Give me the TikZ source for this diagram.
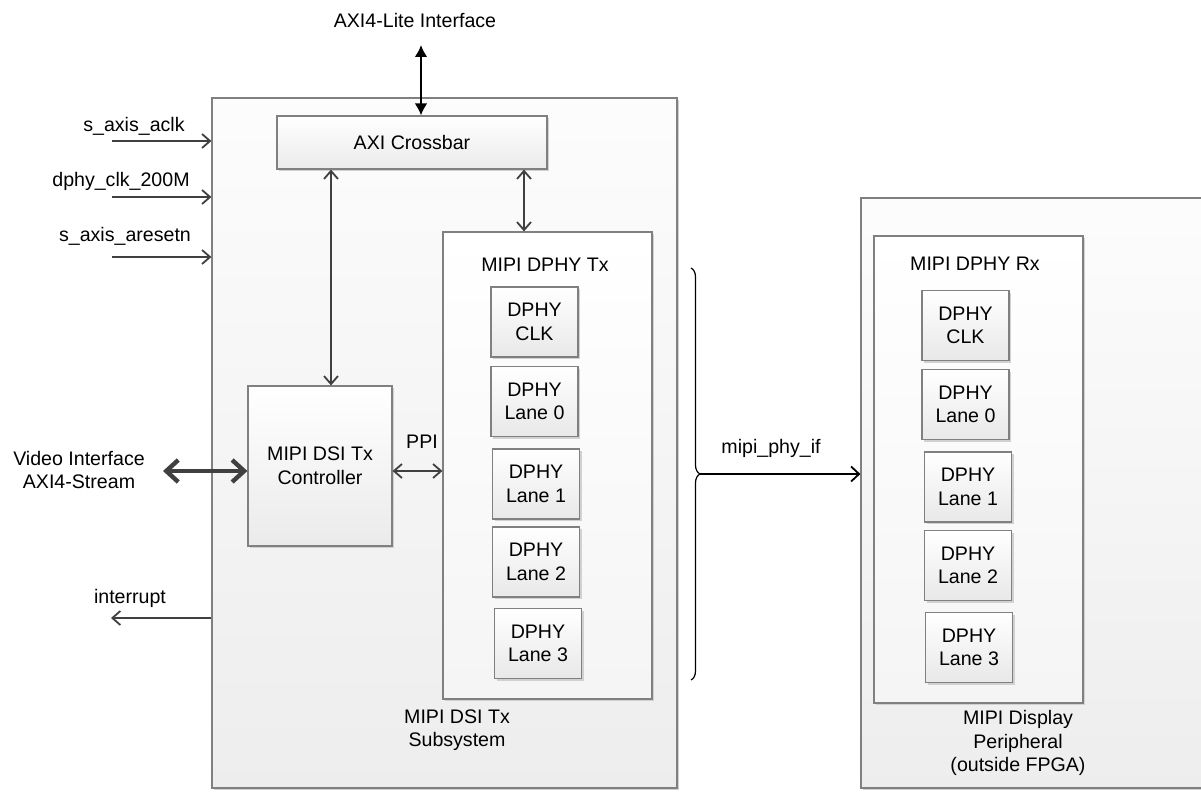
\documentclass[tikz,border=0pt]{standalone}
\usepackage{fontspec}
\setmainfont{Liberation Sans}
\usetikzlibrary{arrows.meta,shadows,decorations.pathreplacing}
\definecolor{edge}{HTML}{808080}
\definecolor{wire}{HTML}{404040}
\begin{document}
\begin{tikzpicture}[x=0.5pt,y=-0.5pt,font=\fontsize{9.8}{11.75}\selectfont,
    blk/.style={draw=edge,line width=0.6pt,inner sep=0pt,top color=white,bottom color=black!8,
        drop shadow={shadow xshift=1.2pt,shadow yshift=-1.2pt,fill=black!18,opacity=1}},
    lane/.style={blk,align=center,minimum width=43.5pt,minimum height=35pt,bottom color=black!9},
    sig/.style={draw=wire,line width=0.9pt,-{Straight Barb[length=4pt,width=7pt]}},
    bus/.style={draw=wire,line width=0.9pt,{Straight Barb[length=4pt,width=7pt]}-{Straight Barb[length=4pt,width=7pt]}},
    video/.style={draw=wire,line width=2.2pt,{Straight Barb[length=6pt,width=11pt]}-{Straight Barb[length=6pt,width=11pt]}},
    lite/.style={draw=black,line width=1.2pt,{Latex[length=6pt,width=6.5pt]}-{Latex[length=6pt,width=6.5pt]}},
    phy/.style={draw=black,line width=0.9pt,-{Straight Barb[length=4pt,width=7.5pt]}},
    curly/.style={draw=black,line width=0.6pt,decorate,decoration={brace,amplitude=4.5pt}}]
        \useasboundingbox (0,0) rectangle (1201,797);
        \clip (0,0) rectangle (1201,797);
        \fill[white] (0,0) rectangle (1201,797);
        % subsystem and peripheral
        \node[blk,minimum width=232.5pt,minimum height=345pt,top color=black!1,bottom color=black!7] (TX) at (444.5,443) {};
        \node[blk,minimum width=190pt,minimum height=295pt,top color=black!1,bottom color=black!7] (RX) at (1051,493) {};
        \node[blk,minimum width=135pt,minimum height=26.5pt] (XB) at (412,142.5) {AXI Crossbar};
        \node[blk,align=center,minimum width=72pt,minimum height=80pt] (CTRL) at (320,466) {MIPI DSI Tx\\Controller};
        \node[blk,minimum width=104.5pt,minimum height=233.5pt,bottom color=black!4] (PHYTX) at (547.5,465.5) {};
        \node[blk,minimum width=104.5pt,minimum height=233.5pt,bottom color=black!4] (PHYRX) at (978.5,469.5) {};
        \begin{scope}[every node/.style={lane}]
            \node (TXCLK) at (534.5,322) {DPHY\\CLK};
            \node (TXL0) at (534.5,401.5) {DPHY\\Lane 0};
            \node (TXL1) at (536,484) {DPHY\\Lane 1};
            \node (TXL2) at (536,562) {DPHY\\Lane 2};
            \node (TXL3) at (538,643.5) {DPHY\\Lane 3};
            \node (RXCLK) at (965.5,325.5) {DPHY\\CLK};
            \node (RXL0) at (965.5,404.5) {DPHY\\Lane 0};
            \node (RXL1) at (968,487) {DPHY\\Lane 1};
            \node (RXL2) at (968,565.5) {DPHY\\Lane 2};
            \node (RXL3) at (969,647.5) {DPHY\\Lane 3};
        \end{scope}
        % labels
        \node (TXT) at (545,265) {MIPI DPHY Tx};
        \node (RXT) at (975,264) {MIPI DPHY Rx};
        \node[align=center] (TXN) at (457,730) {MIPI DSI Tx\\Subsystem};
        \node[align=center] (RXN) at (1018,743) {MIPI Display\\Peripheral\\(outside FPGA)};
        \node (LITEL) at (415,20) {AXI4-Lite Interface};
        \node (ACLKL) at (134,126) {s\_axis\_aclk};
        \node (DCLKL) at (121,181) {dphy\_clk\_200M};
        \node (RSTL) at (125,236) {s\_axis\_aresetn};
        \node (IRQL) at (130,598) {interrupt};
        \node[align=center] (VIDL) at (79,470) {Video Interface\\AXI4-Stream};
        \node (PPIL) at (422,442) {PPI};
        \node (PHYL) at (771,448) {mipi\_phy\_if};
        % free ends
        \coordinate (ACLK) at (112,141);
        \coordinate (DCLK) at (112,197);
        \coordinate (RST) at (112,257);
        \coordinate (IRQ) at (111,618);
        \coordinate (VID) at (163,471);
        \coordinate (LITE) at (421,45);
        \coordinate (TIP) at (700,474);
        \draw[sig] (ACLK) -- (ACLK -| TX.west);
        \draw[sig] (DCLK) -- (DCLK -| TX.west);
        \draw[sig] (RST) -- (RST -| TX.west);
        \draw[sig] (IRQ -| TX.west) -- (IRQ);
        \draw[video] (VID) -- (VID -| CTRL.west);
        \draw[bus] (CTRL.east |- VID) -- (PHYTX.west |- VID);
        \draw[lite] (LITE) -- (LITE |- XB.north);
        \draw[bus] ([xshift=5.5pt]CTRL.north) -- ([xshift=5.5pt]CTRL.north |- XB.south);
        \draw[bus] ([xshift=-11.75pt]PHYTX.north) -- ([xshift=-11.75pt]PHYTX.north |- XB.south);
        \draw[curly] (691,268) -- (691,680);
        \draw[phy] (TIP) -- (TIP -| RX.west);
\end{tikzpicture}
\end{document}
